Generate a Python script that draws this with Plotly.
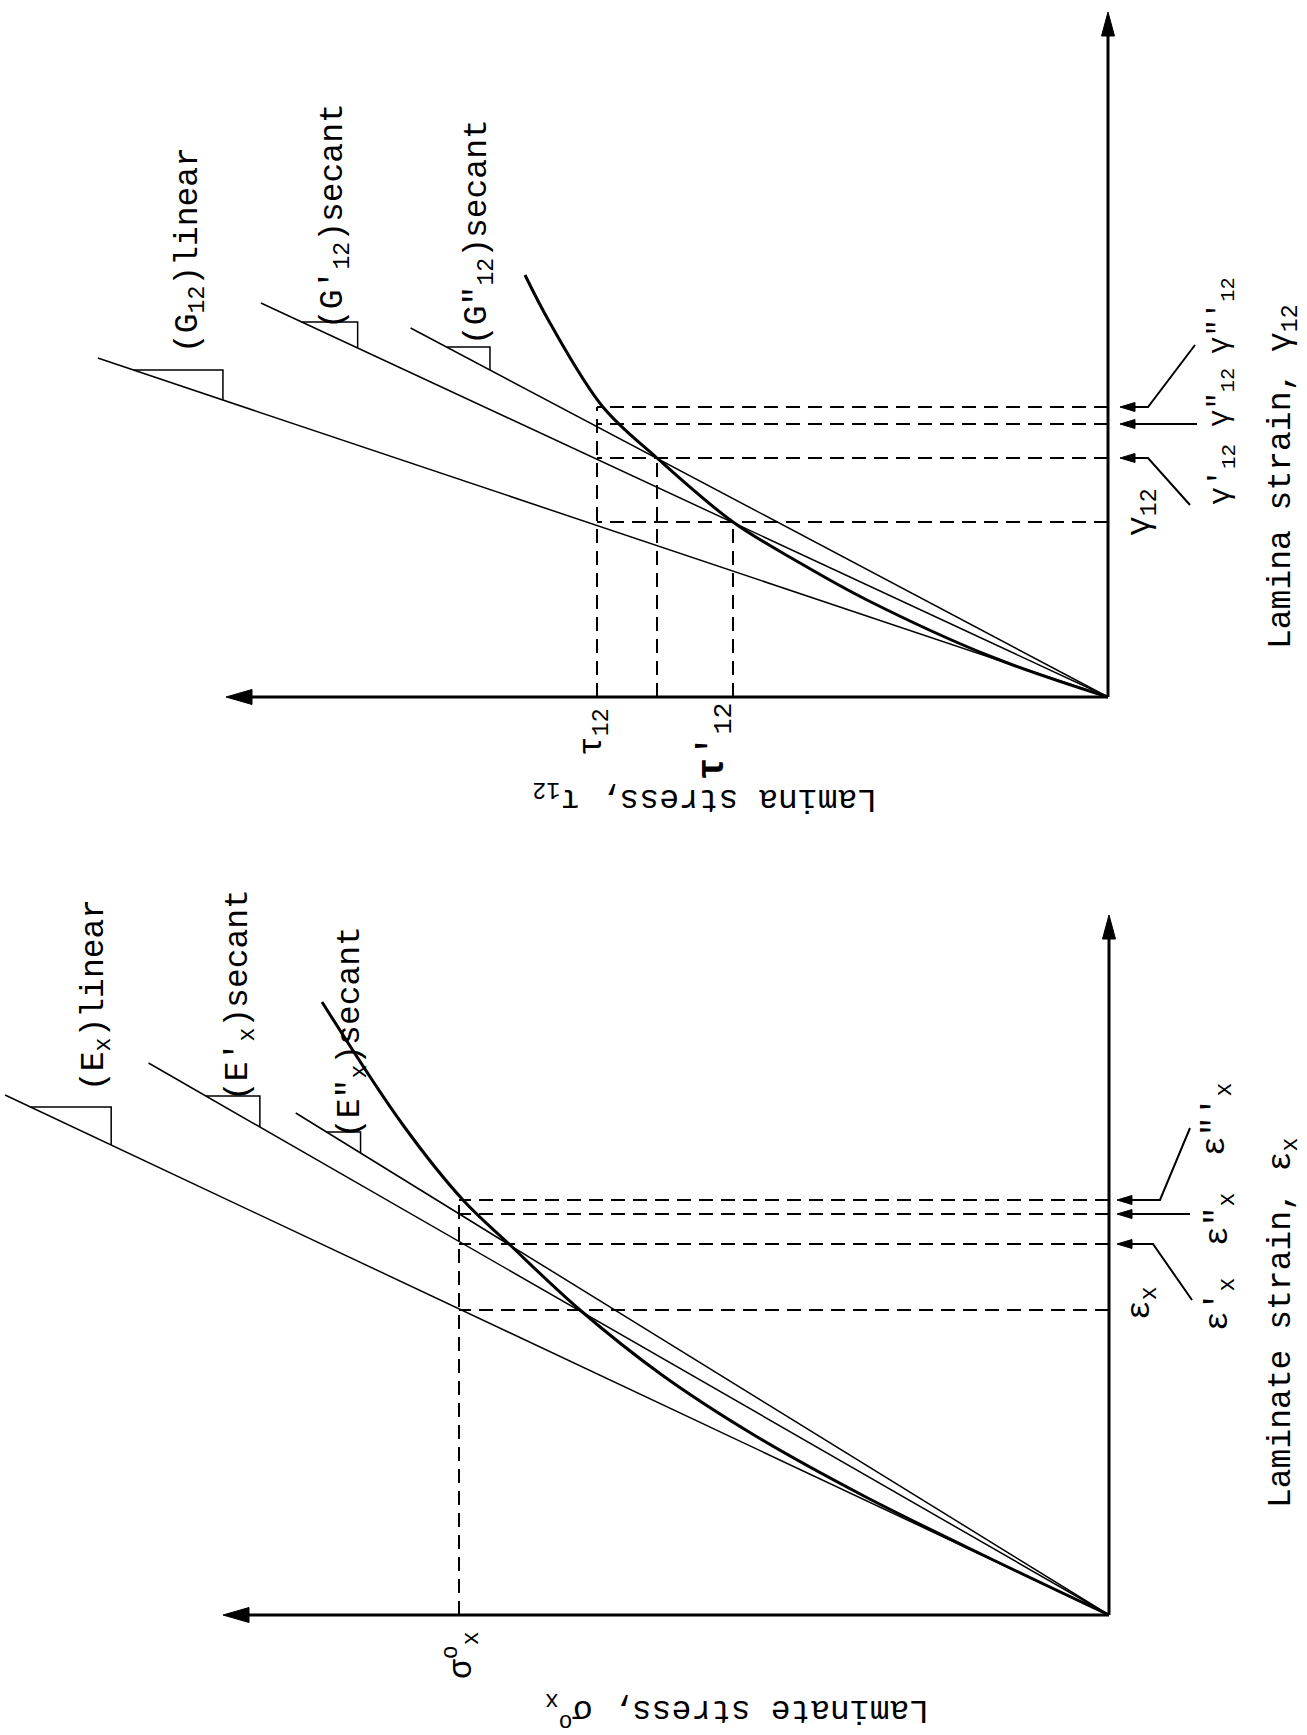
import plotly.graph_objects as go

# ---------------- top panel: lamina shear (strain γ12 vs stress τ12) ----------------
gamma_levels = [175, 239, 273, 290]          # γ12, γ'12, γ''12, γ'''12
gamma_labels = ["γ<sub>12</sub>", "γ'<sub>12</sub>", 'γ"<sub>12</sub>', "γ\"'<sub>12</sub>"]
tau_levels = [511, 451, 375]                 # τ12, τ''12, τ'12
tau_dash_to = [290, 239, 175]                # strain where each stress line ends
G_modulus = [2.98, 2.15, 1.89]               # (G12)linear, (G'12)secant, (G''12)secant
G_line_end = [339, 394, 369]                 # strain at the far end of each modulus line
G_triangle = [[297, 327], [349, 375], [327, 350]]
G_labels = ["(G<sub>12</sub>)linear", "(G'<sub>12</sub>)secant", '(G"<sub>12</sub>)secant']
gamma_curve = [0, 40, 97, 134, 175, 239, 290, 374, 422]
tau_curve = [0, 116, 241, 308, 375, 451, 505, 558, 583]

# ---------------- bottom panel: laminate (strain εx vs stress σx) ----------------
eps_levels = [305, 371, 401, 415]            # εx, ε'x, ε''x, ε'''x
eps_labels = ["ε<sub>x</sub>", "ε'<sub>x</sub>", 'ε"<sub>x</sub>', "ε\"'<sub>x</sub>"]
sigma0 = 650
E_modulus = [2.123, 1.74, 1.62]              # (Ex)linear, (E'x)secant, (E''x)secant
E_line_end = [520, 552, 502]
E_triangle = [[470, 508], [488, 519], [462, 483]]
E_labels = ["(E<sub>x</sub>)linear", "(E'<sub>x</sub>)secant", '(E"<sub>x</sub>)secant']
eps_curve = [0, 60, 120, 180, 240, 305, 371, 415, 490, 613]
sig_curve = [0, 126, 247, 355, 447, 529, 600, 646, 706, 787]

# ---------------- layout geometry ----------------
W, H = 1307, 1735
SPLIT = 860
FONT = "Liberation Mono, Courier New, monospace"
FS = 33
top = dict(ox=1108, oy=697, xa="x", ya="y", strain_len=685, stress_len=882)
bot = dict(ox=1109, oy=1615, xa="x2", ya="y2", strain_len=700, stress_len=886)

fig = go.Figure()


def line(p, s, e, width=1.5, dash=None, shape="linear"):
    fig.add_trace(go.Scatter(
        x=s, y=e, mode="lines", xaxis=p["xa"], yaxis=p["ya"],
        line=dict(color="black", width=width, dash=dash, shape=shape),
        hoverinfo="skip", showlegend=False))


def head(p, tip_s, tip_e, direction, L, Wd):
    if direction == "s":
        xs = [tip_s, tip_s - L, tip_s - L, tip_s]
        ys = [tip_e, tip_e + Wd / 2, tip_e - Wd / 2, tip_e]
    else:
        xs = [tip_s, tip_s + Wd / 2, tip_s - Wd / 2, tip_s]
        ys = [tip_e, tip_e - L, tip_e - L, tip_e]
    fig.add_trace(go.Scatter(
        x=xs, y=ys, mode="lines", fill="toself", fillcolor="black",
        xaxis=p["xa"], yaxis=p["ya"], line=dict(color="black", width=1),
        hoverinfo="skip", showlegend=False))


def text(p, t, s, e, angle=-90, size=FS):
    fig.add_annotation(
        x=s, y=e, xref=p["xa"], yref=p["ya"], text=t, showarrow=False,
        textangle=angle, xanchor="center", yanchor="middle",
        font=dict(family=FONT, size=size, color="black"))


def panel(p, levels, stress_levels, stress_to, mods, ends, tris,
          curve_strain, curve_stress, tip_s, leaders):
    DASH = "14px,8px"
    # axes with arrowheads
    line(p, [0, 0], [0, p["strain_len"] - 18], width=3)
    head(p, 0, p["strain_len"], "e", 24, 13)
    line(p, [0, p["stress_len"] - 20], [0, 0], width=3)
    head(p, p["stress_len"], 0, "s", 26, 15)
    # modulus lines and slope triangles
    for m, end, (lo, hi) in zip(mods, ends, tris):
        line(p, [0, m * end], [0, end], width=1.5)
        line(p, [m * hi, m * lo, m * lo], [hi, hi, lo], width=1.5)
    # nonlinear stress-strain curve
    line(p, curve_stress, curve_strain, width=3, shape="spline")
    # dashed construction lines
    smax = max(stress_levels)
    for lv in levels:
        line(p, [0, smax], [lv, lv], width=2, dash=DASH)
    for sv, to in zip(stress_levels, stress_to):
        line(p, [sv, sv], [0, to], width=2, dash=DASH)
    # leader arrows pointing at the strain axis
    for lv, (ts, te, el) in zip(levels[1:], leaders):
        if el is None:
            line(p, [ts, tip_s - 10], [lv, lv], width=2)
        else:
            line(p, [ts, el, tip_s - 10], [te, lv, lv], width=2)
        head(p, tip_s, lv, "s", 15, 9)


# ---------------- top panel ----------------
panel(top, gamma_levels, tau_levels, tau_dash_to, G_modulus, G_line_end,
      G_triangle, gamma_curve, tau_curve, -12,
      [(-82, 192, -40), (-89, None, None), (-87, 352, -40)])
for t, s, e in zip(G_labels, [918, 773, 629], [447, 481, 465]):
    text(top, t, s, e)
for t, s, e, fs in zip(gamma_labels, [-34, -114, -114, -114], [185, 222, 299, 381],
                       [33, 30, 29, 29]):
    text(top, t, s, e, size=fs)
text(top, "Lamina strain, γ<sub>12</sub>", -175, 220)
text(top, "τ<sub>12</sub>", 514, -35)
text(top, "<b>τ</b>'<sub>12</sub>", 393, -44, size=38)
text(top, "Lamina stress, τ<sub>12</sub>", 403, -100, angle=180)

# ---------------- bottom panel ----------------
panel(bot, eps_levels, [sigma0], [eps_levels[-1]], E_modulus, E_line_end,
      E_triangle, eps_curve, sig_curve, -8,
      [(-83, 315, -44), (-81, None, None), (-81, 487, -51)])
for t, s, e in zip(E_labels, [1013, 869, 757], [620, 620, 583]):
    text(bot, t, s, e)
for t, s, e in zip(eps_labels, [-33, -111, -111, -108], [312, 310, 395, 495]):
    text(bot, t, s, e)
text(bot, "Laminate strain, ε<sub>x</sub>", -174, 292)
text(bot, "σ<sup>o</sup><sub>x</sub>", 648, -40)
text(bot, "Laminate stress, σ<sup>o</sup><sub>x</sub>", 372, -96, angle=180)

# ---------------- axes mapping (1 data unit = 1 pixel) ----------------
fr = SPLIT / H
fig.update_layout(
    width=W, height=H, margin=dict(l=0, r=0, t=0, b=0),
    paper_bgcolor="white", plot_bgcolor="white", showlegend=False,
    xaxis=dict(domain=[0, 1], range=[top["ox"], top["ox"] - W], visible=False),
    yaxis=dict(domain=[1 - fr, 1], range=[top["oy"] - SPLIT, top["oy"]], visible=False),
    xaxis2=dict(domain=[0, 1], range=[bot["ox"], bot["ox"] - W], visible=False,
                anchor="y2"),
    yaxis2=dict(domain=[0, 1 - fr], range=[bot["oy"] - H, bot["oy"] - SPLIT],
                visible=False, anchor="x2"),
)

fig.write_html("out.html")
